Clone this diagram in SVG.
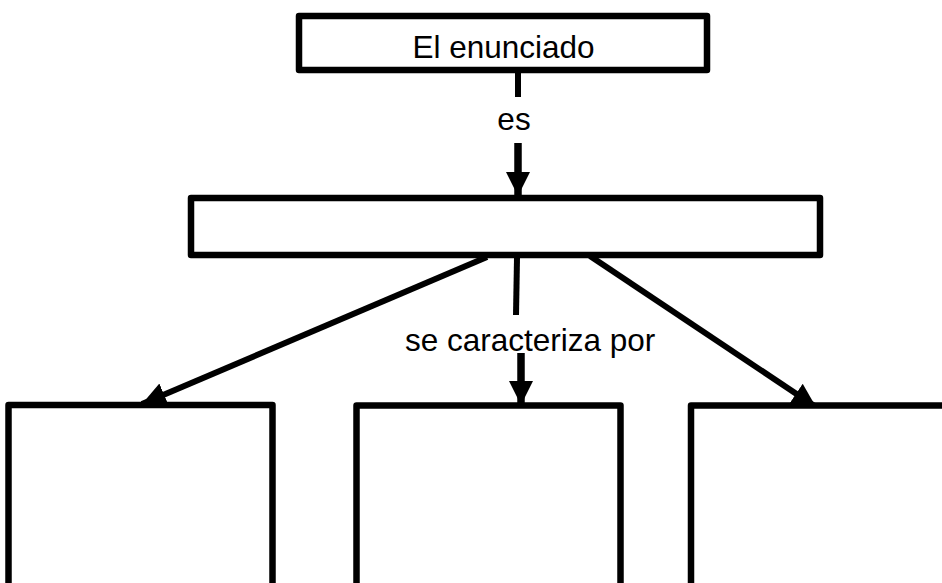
<svg xmlns="http://www.w3.org/2000/svg" width="942" height="583" viewBox="0 0 942 583">
<style>
.box{fill:#fff;stroke:#000;stroke-width:6.5;stroke-linejoin:round}
.ln{stroke:#000;stroke-width:6;fill:none}
.txt{font-family:"Liberation Sans",Arial,sans-serif;font-size:31.5px;fill:#000}
</style>
<defs>
<marker id="ah" markerUnits="userSpaceOnUse" markerWidth="26" markerHeight="26" refX="24" refY="12" orient="auto" viewBox="0 0 26 24">
<path d="M0,0 L24,12 L0,24 z" fill="#000"/>
</marker>
</defs>
<g id="connectors">
<line class="ln" x1="518" y1="72" x2="518" y2="97"/>
<line class="ln" style="stroke-width:7.5" x1="518" y1="143" x2="518" y2="196" marker-end="url(#ah)"/>
<line class="ln" x1="487" y1="257" x2="142" y2="404" marker-end="url(#ah)"/>
<line class="ln" x1="517" y1="258" x2="516" y2="315"/>
<line class="ln" style="stroke-width:7.5" x1="521" y1="353" x2="521" y2="405" marker-end="url(#ah)"/>
<line class="ln" x1="590" y1="256" x2="816" y2="407" marker-end="url(#ah)"/>
</g>
<g id="lbl-es"><text class="txt" x="514" y="130" text-anchor="middle">es</text></g>
<g id="lbl-car"><text class="txt" x="405" y="351">se caracteriza por</text></g>
<g id="n-top"><rect class="box" x="299" y="16" width="408" height="54"/><text class="txt" x="503.5" y="58" text-anchor="middle">El enunciado</text></g>
<g id="n-mid"><rect class="box" x="191" y="198" width="629" height="57"/></g>
<g id="n-b1"><rect class="box" x="8.5" y="405" width="264" height="220"/></g>
<g id="n-b2"><rect class="box" x="356.5" y="405.5" width="264" height="220"/></g>
<g id="n-b3"><rect class="box" x="691" y="405.5" width="300" height="220"/></g>
</svg>
